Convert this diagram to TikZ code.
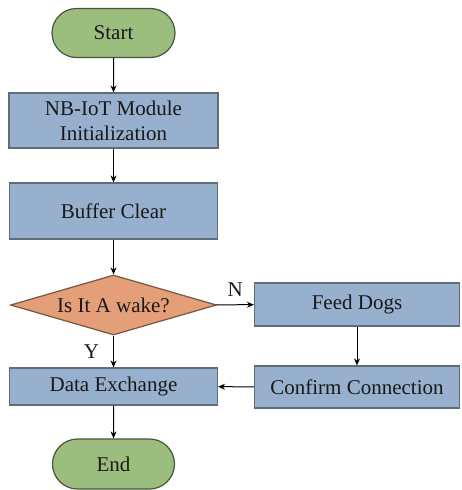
\documentclass[tikz,border=0pt]{standalone}
\usepackage{fontspec}
\setmainfont{Liberation Serif}
\usetikzlibrary{shapes.geometric,shapes.misc,arrows.meta}
\definecolor{boxblue}{RGB}{150,176,205}
\definecolor{boxedge}{RGB}{95,108,122}
\definecolor{termgreen}{RGB}{155,190,126}
\definecolor{termedge}{RGB}{70,85,65}
\definecolor{decorange}{RGB}{228,158,120}
\definecolor{decedge}{RGB}{120,85,65}
\begin{document}
\begin{tikzpicture}[x=1pt,y=-1pt,
  every node/.style={font=\fontsize{21}{25}\selectfont, text=black!90, inner sep=0pt, align=center},
  procbox/.style={rectangle, draw=boxedge, line width=1.2pt, fill=boxblue},
  termbox/.style={rounded rectangle, draw=termedge, line width=1.2pt, fill=termgreen},
  decbox/.style={diamond, aspect=3.43, draw=decedge, line width=1.2pt, fill=decorange},
  flow/.style={line width=1pt, -{Stealth[length=7pt,width=6pt]}}]
\useasboundingbox (0,0) rectangle (461,490);
\node[termbox, minimum width=123pt, minimum height=49pt] (start) at (113.5,33) {Start};
\node[procbox, minimum width=209pt, minimum height=55pt] (init) at (113.5,120.5) {NB-IoT Module\\Initialization};
\node[procbox, minimum width=208pt, minimum height=56pt] (buf) at (113.5,211) {Buffer Clear};
\node[decbox, minimum width=206pt, minimum height=60pt] (wake) at (113.5,305) {};
\node (waketext) at (wake.center) {Is It A wake?};
\node[procbox, minimum width=205pt, minimum height=43pt] (feed) at (357,304.5) {Feed Dogs};
\node[procbox, minimum width=205pt, minimum height=42pt] (conf) at (357,387) {Confirm Connection};
\node[procbox, minimum width=208pt, minimum height=37pt] (data) at (113.5,386.5) {Data Exchange};
\node[termbox, minimum width=122pt, minimum height=50pt] (end) at (113.5,464) {End};
\draw[flow] (start) -- (init);
\draw[flow] (init) -- (buf);
\draw[flow] (buf) -- (wake);
\draw[flow] (wake) -- node[pos=0.5, above=8pt] (nlab) {N} (feed);
\draw[flow] (wake) -- node[pos=0.5, left=14pt] (ylab) {Y} (data);
\draw[flow] (feed) -- (conf);
\draw[flow] (conf) -- (data);
\draw[flow] (data) -- (end);
\end{tikzpicture}
\end{document}
